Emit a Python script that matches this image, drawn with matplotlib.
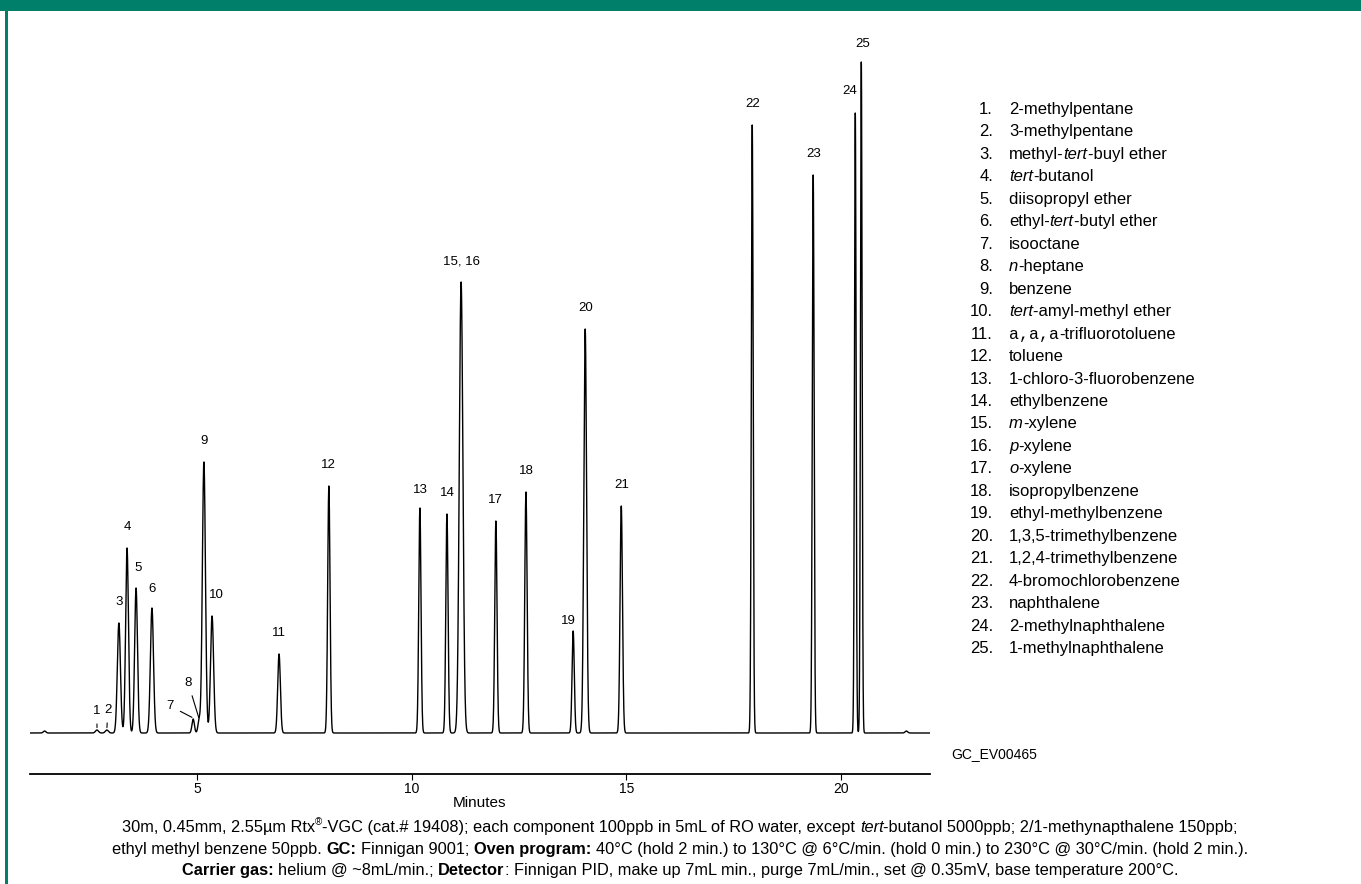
import re
import numpy as np
import matplotlib
matplotlib.use("Agg")
import matplotlib.pyplot as plt
from matplotlib import font_manager
from matplotlib.patches import Rectangle
from matplotlib.transforms import IdentityTransform

# ---------------- data ----------------
peak_labels = ["1", "2", "3", "4", "5", "6", "7", "8", "9", "10", "11", "12",
               "13", "14", "15, 16", "17", "18", "19", "20", "21", "22", "23",
               "24", "25"]
retention_min = [2.67, 2.90, 3.18, 3.37, 3.58, 3.95, 4.91, 5.05, 5.16, 5.35,
                 6.91, 8.07, 10.19, 10.82, 11.15, 11.96, 12.66, 13.76, 14.04,
                 14.88, 17.93, 19.35, 20.33, 20.47]
peak_height = [3, 3, 110, 185, 145, 125, 14, 13, 271, 117, 79, 247, 225, 219,
               451, 212, 241, 102, 404, 227, 608, 558, 620, 671]
peak_sigma = [0.035, 0.035, 0.036, 0.033, 0.033, 0.036, 0.028, 0.028, 0.036,
              0.036, 0.031, 0.027, 0.026, 0.026, 0.042, 0.026, 0.027, 0.026,
              0.032, 0.028, 0.021, 0.021, 0.019, 0.019]
minor_rt = [1.45, 21.52]
minor_height = [2, 2]
minor_sigma = [0.03, 0.03]

x_ticks = [5, 10, 15, 20]
x_label = "Minutes"

compound_names = [
    "2-methylpentane",
    "3-methylpentane",
    "methyl-<i>tert</i>-buyl ether",
    "<i>tert</i>-butanol",
    "diisopropyl ether",
    "ethyl-<i>tert</i>-butyl ether",
    "isooctane",
    "<i>n</i>-heptane",
    "benzene",
    "<i>tert</i>-amyl-methyl ether",
    "<m>a,a,a</m>-trifluorotoluene",
    "toluene",
    "1-chloro-3-fluorobenzene",
    "ethylbenzene",
    "<i>m</i>-xylene",
    "<i>p</i>-xylene",
    "<i>o</i>-xylene",
    "isopropylbenzene",
    "ethyl-methylbenzene",
    "1,3,5-trimethylbenzene",
    "1,2,4-trimethylbenzene",
    "4-bromochlorobenzene",
    "naphthalene",
    "2-methylnaphthalene",
    "1-methylnaphthalene",
]

footer_lines = [
    "30m, 0.45mm, 2.55\u00b5m Rtx<sup>\u00ae</sup>-VGC (cat.# 19408); each component 100ppb in 5mL of RO water, except <i>tert</i>-butanol 5000ppb; 2/1-methynapthalene 150ppb;",
    "ethyl methyl benzene 50ppb. <b>GC:</b> Finnigan 9001; <b>Oven program:</b> 40\u00b0C (hold 2 min.) to 130\u00b0C @ 6\u00b0C/min. (hold 0 min.) to 230\u00b0C @ 30\u00b0C/min. (hold 2 min.).",
    "<b>Carrier gas:</b> helium @ ~8mL/min.; <b>Detector</b>: Finnigan PID, make up 7mL min., purge 7mL/min., set @ 0.35mV, base temperature 200\u00b0C.",
]
figure_code = "GC_EV00465"

# ---------------- styling ----------------
W, H = 1361, 884
GREEN = "#00806a"


def has_font(name):
    try:
        font_manager.findfont(name, fallback_to_default=False)
        return True
    except Exception:
        return False


SANS = "Liberation Sans" if has_font("Liberation Sans") else "DejaVu Sans"
NARROW = "Liberation Sans Narrow" if has_font("Liberation Sans Narrow") else SANS
MONO = "Liberation Mono" if has_font("Liberation Mono") else "DejaVu Sans Mono"

fig = plt.figure(figsize=(W / 100, H / 100), dpi=100)
fig.patch.set_facecolor("white")

# banner and left stripe
fig.patches.append(Rectangle((0, 1 - 11 / H), 1, 11 / H, transform=fig.transFigure,
                             facecolor=GREEN, edgecolor="none", zorder=0))
fig.patches.append(Rectangle((5 / W, 0), 2.5 / W, 1 - 11 / H, transform=fig.transFigure,
                             facecolor=GREEN, edgecolor="none", zorder=0))

# chromatogram axes
ax_left, ax_right, ax_bottom_px, ax_top_px = 30, 930, 774, 40
ax = fig.add_axes([ax_left / W, (H - ax_bottom_px) / H,
                   (ax_right - ax_left) / W, (ax_bottom_px - ax_top_px) / H])
ax.patch.set_alpha(0)
ax.set_xlim(1.11, 22.07)
ax.set_ylim(0, ax_bottom_px - ax_top_px)
for s in ("left", "right", "top"):
    ax.spines[s].set_visible(False)
ax.spines["bottom"].set_linewidth(1.3)
ax.set_yticks([])
ax.set_xticks(x_ticks)
ax.set_xticklabels([str(v) for v in x_ticks], fontfamily=NARROW, fontsize=10)
ax.tick_params(axis="x", direction="out", length=4, width=0.8, pad=2)
ax.set_xlabel(x_label, fontfamily=NARROW, fontsize=11, labelpad=0)

baseline = 41.0
t = np.arange(1.11, 22.07, 0.002)
signal = np.full_like(t, baseline)
for rt, h, sg in zip(list(retention_min) + minor_rt,
                     list(peak_height) + minor_height,
                     list(peak_sigma) + minor_sigma):
    signal += h * np.exp(-0.5 * ((t - rt) / sg) ** 2)
ax.plot(t, signal, color="black", lw=1.0, solid_joinstyle="round")

# peak labels (offsets in pixels relative to peak apex)
label_offsets = {"1": (0, 18), "2": (1, 19), "5": (2, 20), "7": (-23, 12),
                 "8": (-11, 36), "10": (4, 21), "13": (1, 18), "19": (-5, 10),
                 "24": (-6, 22), "25": (1, 18), "6": (0, 19)}
leader = {"1", "2", "7", "8"}
for lab, rt, h in zip(peak_labels, retention_min, peak_height):
    dx, dy = label_offsets.get(lab, (0, 21))
    apex = (rt, baseline + h + (1 if lab in leader else 0))
    kw = {}
    if lab in leader:
        kw["arrowprops"] = dict(arrowstyle="-", lw=0.8, color="black",
                                shrinkA=3, shrinkB=1)
    ax.annotate(lab, xy=apex, xytext=(dx, dy), textcoords="offset pixels",
                ha="center", va="center", fontsize=9.5, fontfamily=SANS, **kw)

# ---------------- rich text helper ----------------
renderer = fig.canvas.get_renderer()


def parse(markup):
    runs = []
    pos = 0
    for m in re.finditer(r"<(i|b|m|sup)>(.*?)</\1>", markup):
        if m.start() > pos:
            runs.append((markup[pos:m.start()], "n"))
        runs.append((m.group(2), m.group(1)))
        pos = m.end()
    if pos < len(markup):
        runs.append((markup[pos:], "n"))
    return runs


def props_for(style, family, size):
    p = dict(family=family, size=size)
    if style == "i":
        p["style"] = "italic"
    elif style == "b":
        p["weight"] = "bold"
    elif style == "m":
        p["family"] = MONO
    elif style == "sup":
        p["size"] = size * 0.6
    return p


def text_width(s, props):
    if not s:
        return 0.0
    a = fig.text(0, 0, "|" + s + "|", **props)
    b = fig.text(0, 0, "||", **props)
    w = a.get_window_extent(renderer).width - b.get_window_extent(renderer).width
    a.remove()
    b.remove()
    return w


def draw_runs(x, y_base, markup, family, size, align="left"):
    runs = parse(markup)
    items = []
    total = 0.0
    for txt, style in runs:
        p = props_for(style, family, size)
        sw = text_width("a a", p) - text_width("aa", p)
        lead = len(txt) - len(txt.lstrip(" "))
        trail = len(txt) - len(txt.rstrip(" "))
        core = txt.strip(" ")
        cw = text_width(core, p)
        items.append((lead * sw, core, cw, trail * sw, p, style))
        total += lead * sw + cw + trail * sw
    cur = x - total / 2 if align == "center" else x
    size_px = size * 100 / 72
    for lead, core, cw, trail, p, style in items:
        cur += lead
        if core:
            yy = y_base - (0.42 * size_px if style == "sup" else 0)
            fig.text(cur, H - yy, core, transform=IdentityTransform(),
                     ha="left", va="baseline", **p)
        cur += cw + trail


# ---------------- legend list ----------------
row0, row_step = 114, 22.46
for i, name in enumerate(compound_names):
    yb = row0 + i * row_step
    fig.text(993, H - yb, f"{i + 1}.", transform=IdentityTransform(),
             ha="right", va="baseline", family=SANS, size=12)
    draw_runs(1009, yb, name, SANS, 12)

# figure code
fig.text(951, H - 758, figure_code, transform=IdentityTransform(),
         ha="left", va="baseline", family=NARROW, size=10)

# footer
for yb, line in zip([832, 854, 875], footer_lines):
    draw_runs(680, yb, line, NARROW, 11.8, align="center")

fig.savefig("out.png", dpi=100, facecolor="white")
